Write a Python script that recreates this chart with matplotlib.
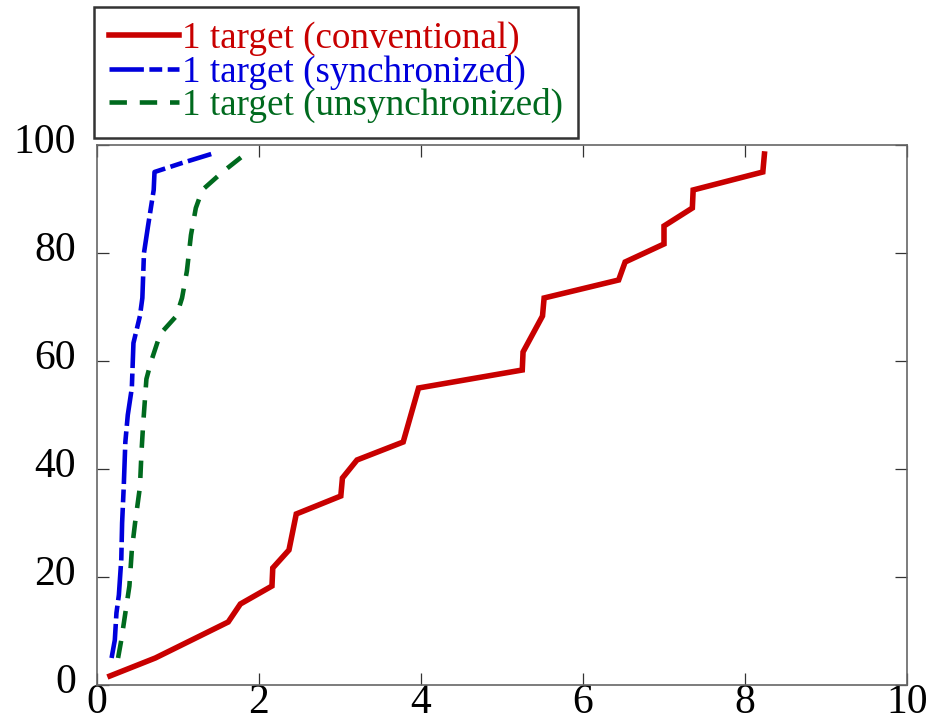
import matplotlib
matplotlib.use("Agg")
import matplotlib.pyplot as plt
from matplotlib.transforms import ScaledTranslation

plt.rcParams['font.family'] = ['Liberation Serif', 'DejaVu Serif']

# Cumulative share of trials (%) against completion time
conv_x = [0.16, 0.72, 1.62, 1.77, 2.16, 2.17, 2.37, 2.46, 3.01, 3.03, 3.21, 3.78,
          3.97, 5.25, 5.26, 5.50, 5.52, 6.44, 6.52, 7.00, 7.00, 7.35, 7.36, 8.22, 8.24]
conv_y = [1.67, 5.0, 11.67, 15.0, 18.33, 21.67, 25.0, 31.67, 35.0, 38.33, 41.67, 45.0,
          55.0, 58.33, 61.67, 68.33, 71.67, 75.0, 78.33, 81.67, 85.0, 88.33, 91.67, 95.0, 98.33]

sync_x = [0.18, 0.22, 0.24, 0.27, 0.30, 0.31, 0.33, 0.35, 0.38, 0.43, 0.45, 0.53,
          0.56, 0.58, 0.63, 0.70, 0.71, 1.05, 1.41]
sync_y = [5.0, 8.33, 13.33, 16.67, 23.33, 30.0, 36.67, 45.0, 50.0, 55.0, 63.33, 68.33,
          71.67, 80.0, 85.0, 91.67, 95.0, 96.67, 98.33]

unsync_x = [0.26, 0.30, 0.35, 0.40, 0.43, 0.47, 0.53, 0.55, 0.57, 0.61, 0.67, 0.78,
            0.98, 1.05, 1.11, 1.16, 1.22, 1.30, 1.55, 1.83]
unsync_y = [5.0, 8.33, 13.33, 18.33, 25.0, 30.0, 36.67, 43.33, 48.33, 56.67, 60.0, 65.0,
            68.33, 71.67, 76.67, 83.33, 88.33, 91.67, 95.0, 98.33]

labels = ["1 target (conventional)", "1 target (synchronized)", "1 target (unsynchronized)"]
colors = ["#c80000", "#0000dc", "#006a1e"]

x_ticks = [0, 2, 4, 6, 8, 10]
y_ticks = [0, 20, 40, 60, 80, 100]

fig = plt.figure(figsize=(9.35, 7.23), dpi=100)
ax = fig.add_axes([97 / 935, 38 / 723, 810 / 935, 540 / 723])

l1, = ax.plot(conv_x, conv_y, color=colors[0], lw=4.0, solid_joinstyle='miter',
              label=labels[0])
l2, = ax.plot(sync_x, sync_y, color=colors[1], lw=3.3, dashes=(7.5, 1.2, 2.8, 1.2),
              label=labels[1])
l3, = ax.plot(unsync_x, unsync_y, color=colors[2], lw=3.3, dashes=(3.8, 2.8),
              label=labels[2])

ax.set_xlim(0, 10)
ax.set_ylim(0, 100)
ax.set_xticks(x_ticks)
ax.set_yticks(y_ticks)

for s in ax.spines.values():
    s.set_color("#666666")
    s.set_linewidth(1.2)

ax.tick_params(axis='both', which='major', direction='in', length=8.5, width=0.9,
               color='#333333', labelsize=30, top=True, right=True)
ax.tick_params(axis='x', pad=-1)
ax.tick_params(axis='y', pad=15)

# nudge the y tick labels slightly upward
shift = ScaledTranslation(0, 7 / 100, fig.dpi_scale_trans)
for lab in ax.get_yticklabels():
    lab.set_transform(lab.get_transform() + shift)

leg = fig.legend(handles=[l1, l2, l3], loc='upper left',
                 bbox_to_anchor=(94 / 935, 1 - 7 / 723), borderaxespad=0,
                 fontsize=26.7, labelspacing=-0.05, handlelength=1.9,
                 handletextpad=0.08, borderpad=0.4, fancybox=False,
                 frameon=True)
frame = leg.get_frame()
frame.set_edgecolor('black')
frame.set_linewidth(1.8)
frame.set_facecolor('white')
for txt, c in zip(leg.get_texts(), colors):
    txt.set_color(c)

fig.savefig("out.png", dpi=100)
